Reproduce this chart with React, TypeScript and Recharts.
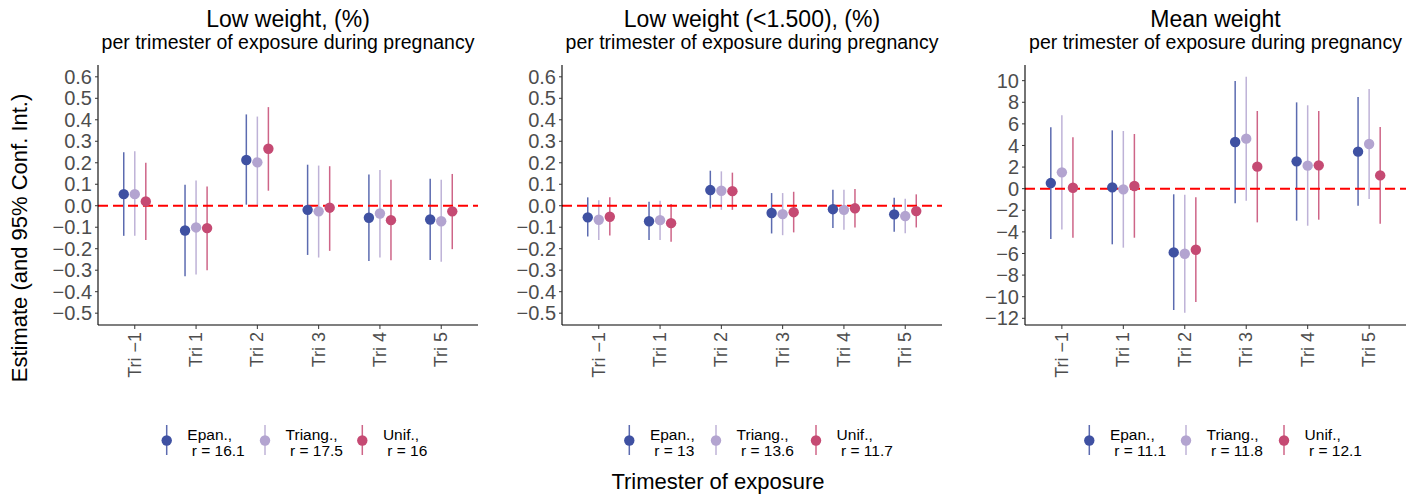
import React from "react";
import { ErrorBar, ReferenceLine, Scatter, ScatterChart, XAxis, YAxis } from "recharts";

const FONT = "'Liberation Sans', Arial, Helvetica, sans-serif";

const categories = ["Tri \u22121", "Tri 1", "Tri 2", "Tri 3", "Tri 4", "Tri 5"];
const kernels = ["Epan.,", "Triang.,", "Unif.,"];
const colors = ["#3F51A2", "#B3A4D0", "#C54A73"];
const dodge = [-0.18, 0, 0.18];

// Low weight, (%)
const lwEpanEst = [0.054, -0.115, 0.213, -0.019, -0.056, -0.064];
const lwEpanLo = [-0.14, -0.328, 0.005, -0.229, -0.257, -0.252];
const lwEpanHi = [0.249, 0.098, 0.425, 0.191, 0.145, 0.126];
const lwTriEst = [0.054, -0.101, 0.202, -0.026, -0.036, -0.072];
const lwTriLo = [-0.14, -0.32, 0.0, -0.241, -0.241, -0.261];
const lwTriHi = [0.254, 0.117, 0.415, 0.187, 0.166, 0.121];
const lwUniEst = [0.02, -0.104, 0.265, -0.009, -0.067, -0.026];
const lwUniLo = [-0.16, -0.3, 0.07, -0.21, -0.254, -0.202];
const lwUniHi = [0.2, 0.089, 0.459, 0.184, 0.121, 0.148];
const lwBandwidth = ["16.1", "17.5", "16"];

// Low weight (<1.500), (%)
const vlwEpanEst = [-0.054, -0.072, 0.073, -0.034, -0.016, -0.04];
const vlwEpanLo = [-0.143, -0.16, -0.012, -0.129, -0.104, -0.121];
const vlwEpanHi = [0.039, 0.019, 0.163, 0.059, 0.075, 0.037];
const vlwTriEst = [-0.065, -0.067, 0.07, -0.039, -0.019, -0.048];
const vlwTriLo = [-0.159, -0.159, -0.019, -0.137, -0.112, -0.128];
const vlwTriHi = [0.026, 0.023, 0.16, 0.059, 0.075, 0.033];
const vlwUniEst = [-0.051, -0.081, 0.068, -0.03, -0.012, -0.025];
const vlwUniLo = [-0.138, -0.168, -0.019, -0.124, -0.101, -0.101];
const vlwUniHi = [0.039, 0.008, 0.154, 0.065, 0.078, 0.053];
const vlwBandwidth = ["13", "13.6", "11.7"];

// Mean weight
const mwEpanEst = [0.52, 0.12, -5.9, 4.32, 2.53, 3.43];
const mwEpanLo = [-4.66, -5.15, -11.23, -1.36, -2.96, -1.57];
const mwEpanHi = [5.68, 5.4, -0.52, 9.97, 7.99, 8.49];
const mwTriEst = [1.51, -0.06, -6.02, 4.63, 2.13, 4.14];
const mwTriLo = [-3.77, -5.46, -11.48, -1.11, -3.43, -0.96];
const mwTriHi = [6.79, 5.34, -0.56, 10.37, 7.72, 9.23];
const mwUniEst = [0.09, 0.25, -5.65, 2.04, 2.16, 1.23];
const mwUniLo = [-4.54, -4.54, -10.49, -3.12, -2.87, -3.24];
const mwUniHi = [4.75, 5.06, -0.8, 7.19, 7.19, 5.71];
const mwBandwidth = ["11.1", "11.8", "12.1"];

const pctTicks = [-0.5, -0.4, -0.3, -0.2, -0.1, 0, 0.1, 0.2, 0.3, 0.4, 0.5, 0.6];
const meanTicks = [-12, -10, -8, -6, -4, -2, 0, 2, 4, 6, 8, 10];

const series = (est: number[], lo: number[], hi: number[], k: number) =>
  est.map((v, i) => ({ x: i + dodge[k], y: v, err: [v - lo[i], hi[i] - v] }));

const panels = [
  {
    title: "Low weight, (%)",
    left: 0, width: 490, yWidth: 98, right: 12,
    domain: [-0.555, 0.655], ticks: pctTicks, digits: 1,
    data: [series(lwEpanEst, lwEpanLo, lwEpanHi, 0), series(lwTriEst, lwTriLo, lwTriHi, 1), series(lwUniEst, lwUniLo, lwUniHi, 2)],
    bw: lwBandwidth,
    legendX: [166.7, 265, 362.3],
  },
  {
    title: "Low weight (<1.500), (%)",
    left: 490, width: 460, yWidth: 72, right: 8,
    domain: [-0.555, 0.655], ticks: pctTicks, digits: 1,
    data: [series(vlwEpanEst, vlwEpanLo, vlwEpanHi, 0), series(vlwTriEst, vlwTriLo, vlwTriHi, 1), series(vlwUniEst, vlwUniLo, vlwUniHi, 2)],
    bw: vlwBandwidth,
    legendX: [629.3, 716, 816],
  },
  {
    title: "Mean weight",
    left: 950, width: 466, yWidth: 75, right: 10,
    domain: [-12.62, 11.45], ticks: meanTicks, digits: 0,
    data: [series(mwEpanEst, mwEpanLo, mwEpanHi, 0), series(mwTriEst, mwTriLo, mwTriHi, 1), series(mwUniEst, mwUniLo, mwUniHi, 2)],
    bw: mwBandwidth,
    legendX: [1089.3, 1186, 1284],
  },
];

const fmt = (digits: number) => (v: number) => {
  const s = Math.abs(v).toFixed(digits);
  return v < -1e-9 ? "\u2212" + s : s;
};

function TriTick(props: any) {
  const { x, y, payload } = props;
  const ty = y + 1;
  return (
    <text
      x={x}
      y={ty}
      transform={`rotate(-90 ${x} ${ty})`}
      textAnchor="end"
      dominantBaseline="central"
      fontSize={18}
      fontFamily={FONT}
      fill="#4D4D4D"
    >
      {categories[payload.value]}
    </text>
  );
}

function Panel({ p }: { p: (typeof panels)[number] }) {
  return (
    <div style={{ position: "absolute", left: p.left, top: 0 }}>
      <ScatterChart width={p.width} height={498} margin={{ top: 65, right: p.right, left: 0, bottom: 113 }}>
        <XAxis
          type="number"
          dataKey="x"
          domain={[-0.6, 5.6]}
          ticks={[0, 1, 2, 3, 4, 5]}
          interval={0}
          allowDataOverflow
          height={60}
          tick={<TriTick />}
          tickSize={4}
          tickLine={{ stroke: "#333333" }}
          axisLine={{ stroke: "#000000", strokeWidth: 1.1 }}
        />
        <YAxis
          type="number"
          dataKey="y"
          domain={p.domain}
          ticks={p.ticks}
          interval={0}
          allowDataOverflow
          width={p.yWidth}
          tickFormatter={fmt(p.digits)}
          tick={{ fill: "#4D4D4D", fontSize: 20, fontFamily: FONT }}
          tickSize={3}
          tickMargin={3}
          tickLine={{ stroke: "#333333" }}
          axisLine={{ stroke: "#000000", strokeWidth: 1.1 }}
        />
        {p.data.map((d, k) => (
          <Scatter
            key={k}
            name={kernels[k]}
            data={d}
            isAnimationActive={false}
            shape={(s: any) => <circle cx={s.cx} cy={s.cy} r={5.2} fill={colors[k]} />}
          >
            <ErrorBar
              dataKey="err"
              direction="y"
              width={0}
              stroke={colors[k]}
              strokeWidth={1.5}
              strokeOpacity={0.85}
              isAnimationActive={false}
            />
          </Scatter>
        ))}
        <ReferenceLine y={0} stroke="#FF0000" strokeWidth={2} strokeDasharray="10 5" />
      </ScatterChart>
    </div>
  );
}

export default function App() {
  return (
    <div style={{ position: "absolute", left: 0, top: 0, width: 1416, height: 498, background: "#fff", fontFamily: FONT }}>
      {panels.map((p, i) => (
        <Panel key={i} p={p} />
      ))}
      <svg width={1416} height={498} style={{ position: "absolute", left: 0, top: 0, pointerEvents: "none" }} fontFamily={FONT}>
        {panels.map((p, i) => {
          const cx = p.left + p.yWidth + (p.width - p.yWidth - p.right) / 2;
          return (
            <g key={i}>
              <text x={cx} y={27} textAnchor="middle" fontSize={23} fill="#000">{p.title}</text>
              <text x={cx} y={49} textAnchor="middle" fontSize={19.5} fill="#000">per trimester of exposure during pregnancy</text>
              {p.legendX.map((lx, k) => (
                <g key={k}>
                  <line x1={lx} x2={lx} y1={425} y2={455} stroke={colors[k]} strokeWidth={1.5} strokeOpacity={0.85} />
                  <circle cx={lx} cy={440.5} r={5.2} fill={colors[k]} />
                  <text x={lx + 20.6} y={439.5} fontSize={15.5} fill="#000">{kernels[k]}</text>
                  <text x={lx + 25} y={455.5} fontSize={15.5} fill="#000">{`r = ${p.bw[k]}`}</text>
                </g>
              ))}
            </g>
          );
        })}
        <text x={27} y={238} transform="rotate(-90 27 238)" textAnchor="middle" fontSize={22} fill="#000">
          Estimate (and 95% Conf. Int.)
        </text>
        <text x={718} y={489} textAnchor="middle" fontSize={22} fill="#000">Trimester of exposure</text>
      </svg>
    </div>
  );
}
